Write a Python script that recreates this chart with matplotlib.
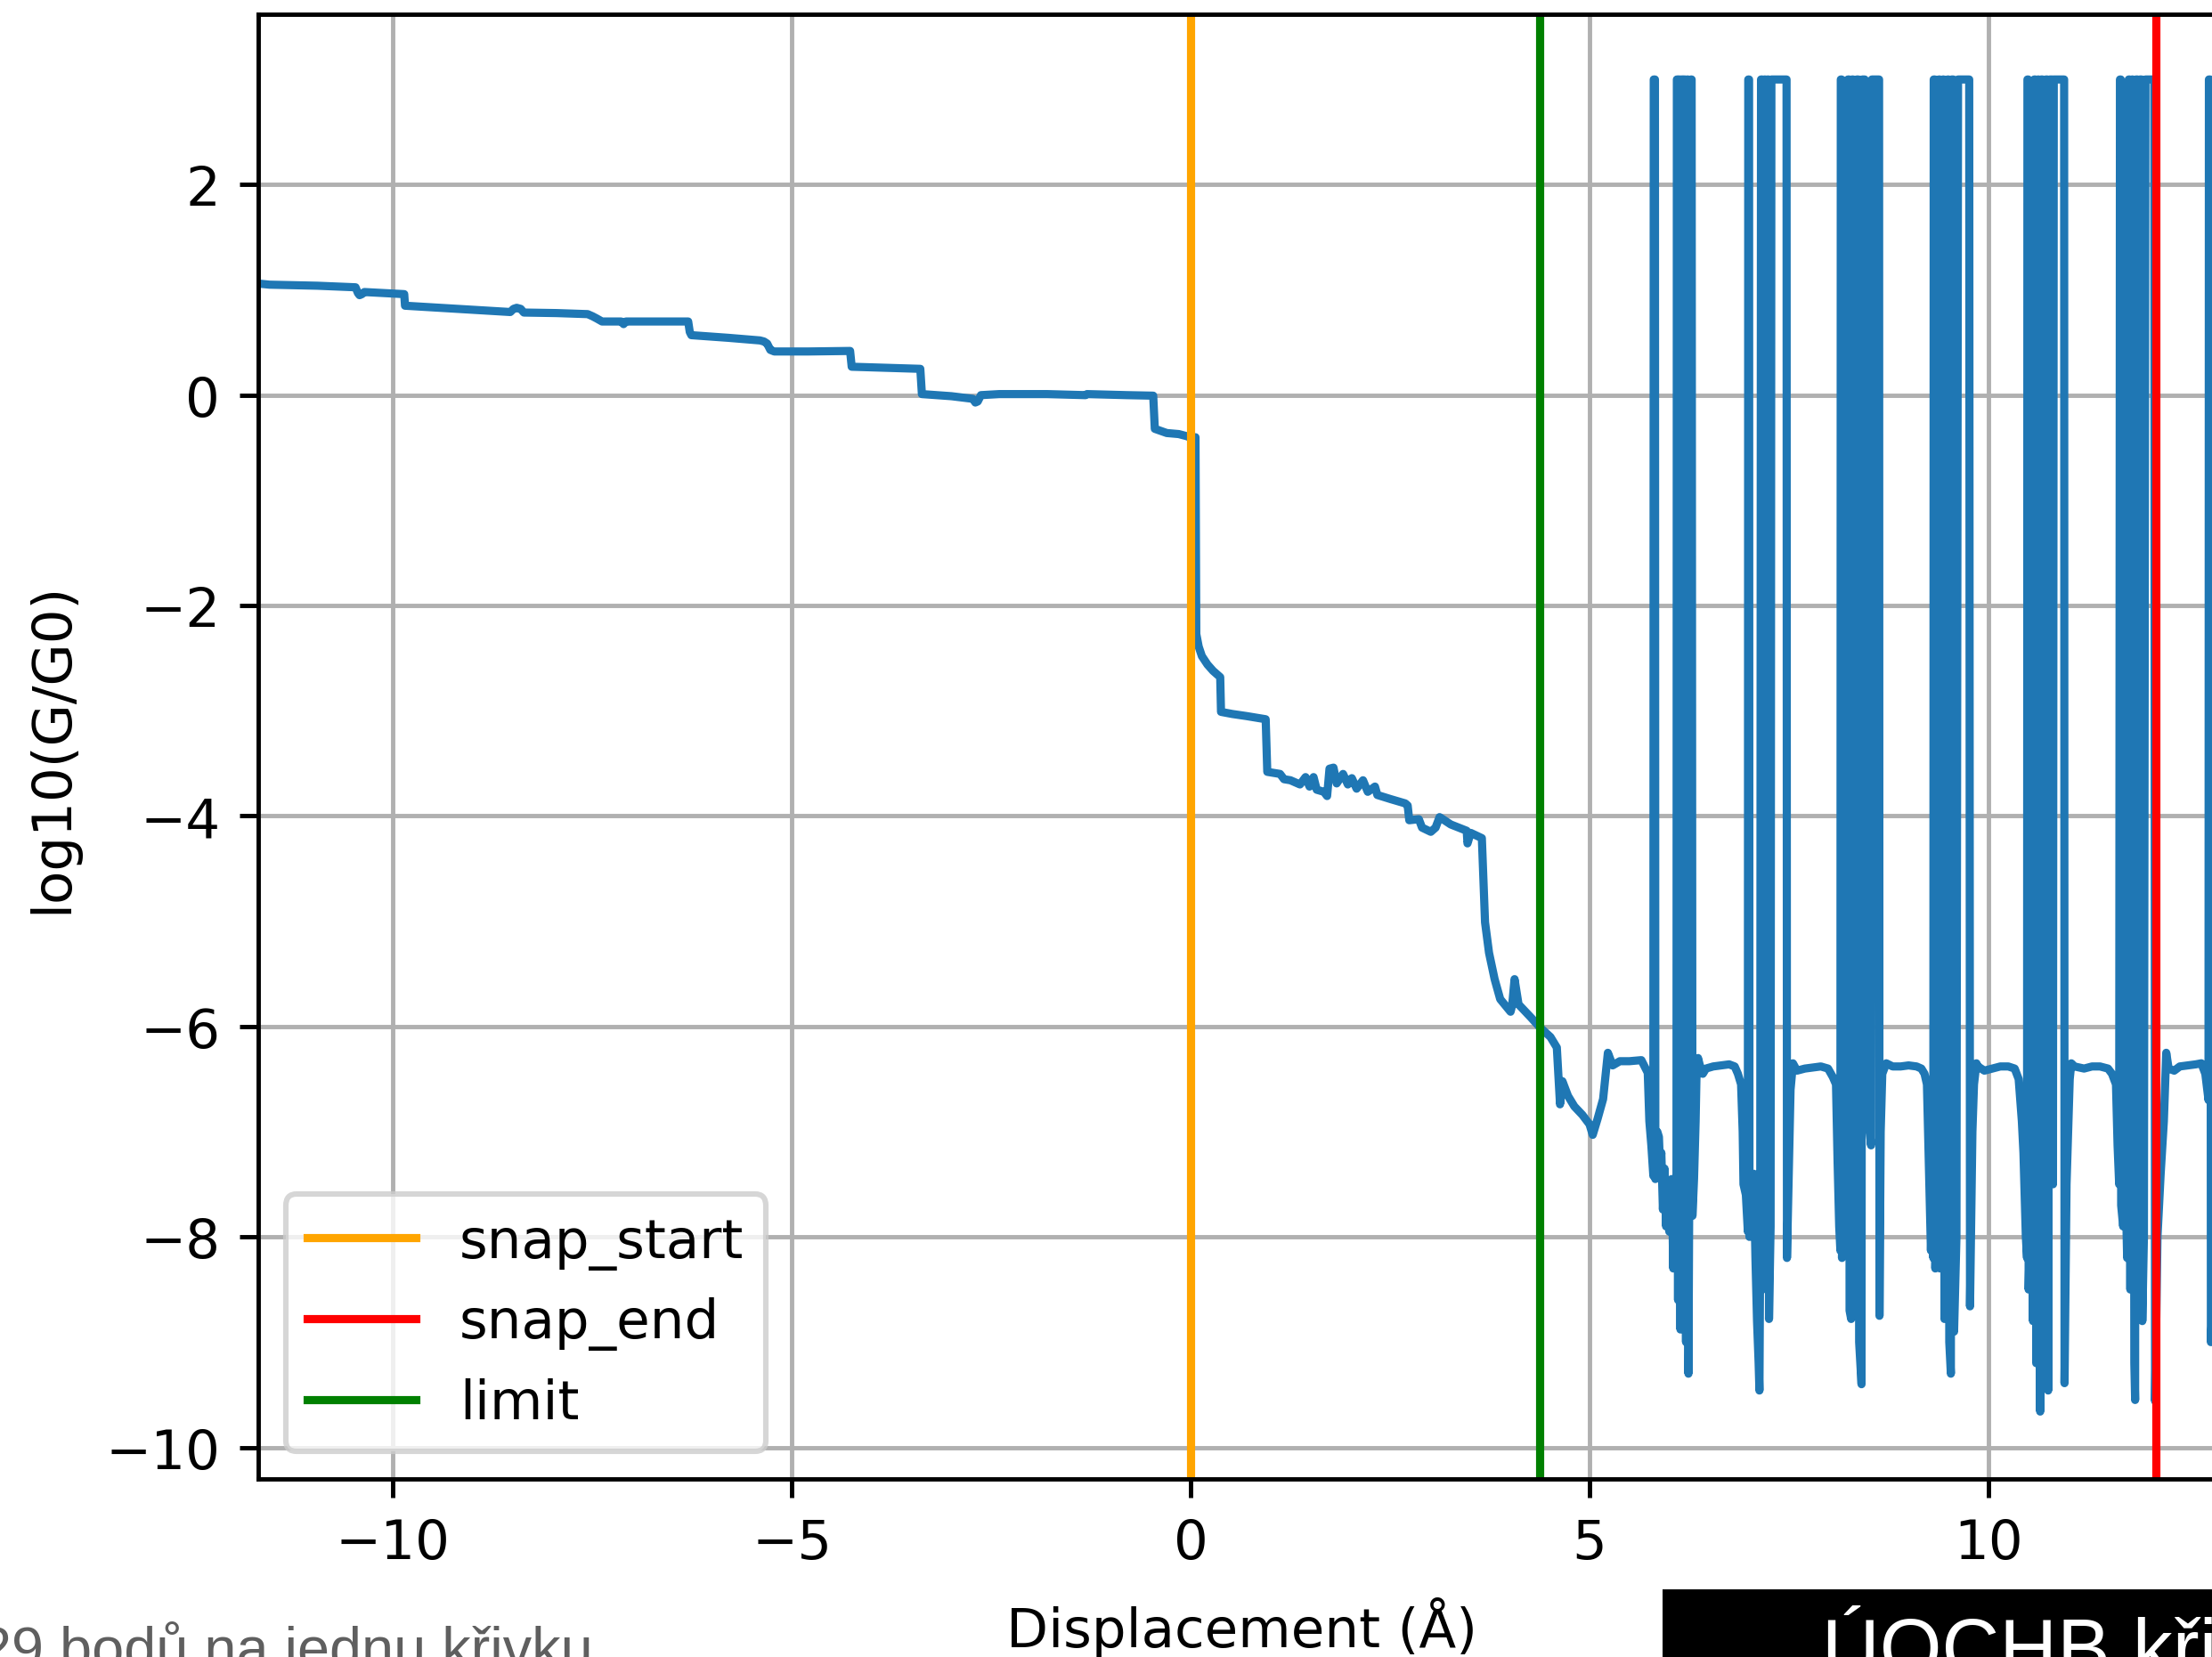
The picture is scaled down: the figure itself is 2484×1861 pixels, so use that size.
"""Vodivostní křivka log10(G/G0) vs. posun, se značkami snap_start / snap_end / limit."""
import numpy as np

import matplotlib
matplotlib.use("Agg")
import matplotlib.pyplot as plt  # noqa: E402
from matplotlib.patches import Rectangle  # noqa: E402

DPI = 440
W_PX, H_PX = 2484, 1862

# ── data: (posun [Å], log10(G/G0)) ──
# kontakt před přetržením (schodovitý pokles)
contact = [
    (-11.68, 1.06), (-11.55, 1.05), (-10.95, 1.04), (-10.47, 1.025), (-10.44, 0.97),
    (-10.42, 0.95), (-10.39, 0.96), (-10.36, 0.98), (-10.10, 0.97), (-9.86, 0.96),
    (-9.85, 0.85), (-9.20, 0.82), (-8.53, 0.79), (-8.49, 0.82), (-8.45, 0.83),
    (-8.40, 0.82), (-8.36, 0.785), (-7.95, 0.78), (-7.56, 0.77), (-7.50, 0.75),
    (-7.45, 0.73), (-7.38, 0.70), (-7.14, 0.70), (-7.11, 0.675), (-7.08, 0.70),
    (-6.70, 0.70), (-6.30, 0.70), (-6.28, 0.60), (-6.26, 0.57), (-5.80, 0.545),
    (-5.40, 0.52), (-5.35, 0.51), (-5.31, 0.49), (-5.27, 0.43), (-5.22, 0.415),
    (-4.80, 0.415), (-4.27, 0.42), (-4.25, 0.27), (-3.80, 0.26), (-3.39, 0.25),
    (-3.37, 0.01), (-3.00, -0.01), (-2.73, -0.035), (-2.70, -0.07), (-2.67, -0.06),
    (-2.63, 0.0), (-2.40, 0.01), (-1.80, 0.01), (-1.32, 0.0), (-1.30, 0.01),
    (-0.80, 0.0), (-0.47, -0.005), (-0.45, -0.32), (-0.30, -0.36), (-0.15, -0.37),
    (-0.05, -0.39), (0.05, -0.42),
]
# po snapu: tunelový režim
tunnel = [
    (0.06, -0.40), (0.07, -2.27), (0.10, -2.39), (0.14, -2.48), (0.21, -2.56),
    (0.28, -2.62), (0.37, -2.68), (0.38, -3.01), (0.52, -3.03), (0.70, -3.05),
    (0.94, -3.08), (0.96, -3.58), (1.12, -3.60), (1.17, -3.65), (1.25, -3.66),
    (1.37, -3.70), (1.44, -3.63), (1.49, -3.72), (1.54, -3.63), (1.58, -3.75),
    (1.67, -3.77), (1.71, -3.81), (1.74, -3.55), (1.79, -3.54), (1.83, -3.69),
    (1.91, -3.60), (1.97, -3.70), (2.02, -3.64), (2.08, -3.74), (2.16, -3.66),
    (2.22, -3.77), (2.31, -3.72), (2.34, -3.80), (2.51, -3.84), (2.69, -3.88),
    (2.72, -3.90), (2.74, -4.04), (2.86, -4.03), (2.90, -4.11), (3.01, -4.15),
    (3.07, -4.11), (3.12, -4.01), (3.26, -4.08), (3.36, -4.11), (3.46, -4.14),
    (3.47, -4.26), (3.51, -4.16), (3.65, -4.21), (3.69, -5.01), (3.74, -5.30),
    (3.81, -5.55), (3.88, -5.74), (4.01, -5.86), (4.03, -5.80), (4.06, -5.55),
    (4.11, -5.79), (4.26, -5.91), (4.38, -6.01), (4.51, -6.10), (4.59, -6.20),
    (4.63, -6.74), (4.66, -6.52), (4.73, -6.66), (4.81, -6.76), (4.91, -6.84),
    (5.00, -6.93), (5.04, -7.03), (5.10, -6.88), (5.17, -6.69), (5.23, -6.25),
    (5.29, -6.37), (5.38, -6.33), (5.50, -6.33), (5.65, -6.32), (5.73, -6.44),
]
# šumový úsek: skoky na saturaci (3) a propady
noise_a = [
    (5.75, -6.90), (5.775, -7.13), (5.80, -7.42), (5.805, 3.0), (5.82, 3.0),
    (5.825, -7.45), (5.85, -7.00), (5.87, -7.05), (5.885, -7.35), (5.90, -7.20),
    (5.92, -7.74), (5.94, -7.35), (5.96, -7.90), (5.98, -7.50), (6.00, -7.95),
    (6.03, -7.45), (6.05, -8.30), (6.07, -7.60), (6.09, -8.00), (6.095, 3.0),
    (6.105, 3.0), (6.11, -8.60), (6.12, 3.0), (6.13, 3.0), (6.14, -8.88),
    (6.15, 3.0), (6.165, 3.0), (6.17, -7.70), (6.18, 3.0), (6.20, 3.0),
    (6.21, -9.00), (6.225, 3.0), (6.235, 3.0), (6.24, -9.30), (6.25, -7.60),
    (6.27, 3.0), (6.28, 3.0), (6.29, -7.80), (6.31, -7.45), (6.33, -6.90),
    (6.34, -6.50), (6.36, -6.30), (6.38, -6.36), (6.42, -6.45), (6.46, -6.40),
    (6.55, -6.38), (6.65, -6.37), (6.75, -6.36), (6.82, -6.38), (6.86, -6.45),
    (6.90, -6.55),
]
noise_b = [
    (6.92, -7.00), (6.93, -7.50), (6.96, -7.60), (6.985, -7.95), (6.99, 3.0),
    (7.00, 3.0), (7.005, -8.00), (7.03, -7.50), (7.05, -7.62), (7.06, -7.40),
    (7.08, -8.20), (7.10, -8.80), (7.12, -9.20), (7.13, -9.46), (7.14, -8.00),
    (7.15, 3.0), (7.165, 3.0), (7.17, -8.50), (7.19, 3.0), (7.205, 3.0),
    (7.21, -8.20), (7.23, 3.0), (7.245, 3.0), (7.25, -8.78), (7.27, -7.90),
    (7.28, 3.0), (7.47, 3.0), (7.475, -8.20), (7.50, -7.30), (7.52, -6.60),
    (7.55, -6.35), (7.60, -6.42), (7.70, -6.40), (7.80, -6.39), (7.90, -6.38),
    (7.99, -6.40), (8.05, -6.48), (8.09, -6.55),
]
noise_c = [
    (8.11, -7.29), (8.13, -7.90), (8.145, -8.13), (8.15, 3.0), (8.16, 3.0),
    (8.165, -8.20), (8.20, -7.30), (8.21, -7.10), (8.23, -7.75), (8.24, 3.0),
    (8.255, 3.0), (8.26, -8.70), (8.28, -8.78), (8.29, 3.0), (8.305, 3.0),
    (8.31, -8.50), (8.33, -7.50), (8.35, 3.0), (8.37, 3.0), (8.38, -9.00),
    (8.41, -9.40), (8.42, 3.0), (8.45, 3.0), (8.46, -6.50), (8.50, -6.90),
    (8.53, -7.13), (8.54, 3.0), (8.63, 3.0), (8.635, -8.75), (8.65, -7.00),
    (8.67, -6.45), (8.72, -6.35), (8.80, -6.38), (8.90, -6.38), (9.00, -6.37),
    (9.10, -6.38), (9.16, -6.40), (9.20, -6.45), (9.23, -6.55),
]
noise_d = [
    (9.26, -7.50), (9.28, -8.13), (9.30, -7.60), (9.31, -8.20), (9.315, 3.0),
    (9.33, 3.0), (9.335, -8.30), (9.36, -7.50), (9.37, -8.00), (9.38, 3.0),
    (9.39, 3.0), (9.395, -8.30), (9.42, -7.70), (9.43, 3.0), (9.44, 3.0),
    (9.45, -8.78), (9.47, -8.20), (9.49, 3.0), (9.50, 3.0), (9.51, -9.00),
    (9.53, -9.30), (9.54, 3.0), (9.56, 3.0), (9.57, -8.90), (9.60, -8.00),
    (9.62, 3.0), (9.76, 3.0), (9.77, -8.66), (9.80, -7.00), (9.82, -6.55),
    (9.85, -6.35), (9.87, -6.38), (9.95, -6.42), (10.05, -6.40), (10.15, -6.38),
    (10.25, -6.38), (10.33, -6.40), (10.38, -6.50),
]
noise_e = [
    (10.42, -6.90), (10.44, -7.20), (10.47, -8.00), (10.485, -8.20), (10.49, 3.0),
    (10.50, 3.0), (10.505, -8.50), (10.54, -7.30), (10.56, -8.80), (10.575, 3.0),
    (10.59, 3.0), (10.60, -9.20), (10.62, 3.0), (10.63, 3.0), (10.65, -9.66),
    (10.66, 3.0), (10.68, 3.0), (10.70, -9.40), (10.72, 3.0), (10.74, 3.0),
    (10.75, -9.46), (10.77, 3.0), (10.80, 3.0), (10.81, -7.50), (10.82, 3.0),
    (10.95, 3.0), (10.955, -9.39), (10.98, -7.50), (11.02, -6.50), (11.04, -6.35),
    (11.08, -6.38), (11.20, -6.40), (11.30, -6.38), (11.40, -6.38), (11.50, -6.40),
    (11.55, -6.45), (11.60, -6.55),
]
noise_f = [
    (11.62, -7.13), (11.64, -7.50), (11.65, 3.0), (11.66, 3.0), (11.665, -7.70),
    (11.69, -7.90), (11.72, -7.50), (11.74, -8.20), (11.76, 3.0), (11.77, 3.0),
    (11.78, -8.50), (11.80, 3.0), (11.81, 3.0), (11.83, -9.20), (11.84, -9.55),
    (11.85, 3.0), (11.87, 3.0), (11.88, -8.60), (11.90, 3.0), (11.92, 3.0),
    (11.93, -8.80), (11.95, -8.00), (11.97, 3.0), (12.08, 3.0), (12.09, -9.56),
    (12.12, -8.00), (12.16, -7.40), (12.20, -6.90), (12.23, -6.25), (12.26, -6.40),
    (12.33, -6.42), (12.40, -6.38), (12.50, -6.37), (12.60, -6.36), (12.67, -6.35),
    (12.72, -6.45), (12.76, -6.70), (12.765, 3.0), (12.78, 3.0), (12.79, -9.00),
    (12.85, -8.00), (12.95, -7.50), (13.05, -7.80),
]

snap_start = 0.0
snap_end = 12.1
limit = 4.38

curve = np.array(contact + tunnel + noise_a + noise_b + noise_c + noise_d + noise_e + noise_f)
disp, logG = curve[:, 0], curve[:, 1]

fig = plt.figure(figsize=(W_PX / DPI, H_PX / DPI), dpi=DPI)
# osa přesahuje pravý okraj obrázku (výřez)
ax = fig.add_axes([290 / W_PX, 1 - 1662 / H_PX, (2498 - 290) / W_PX, (1662 - 17) / H_PX])

ax.plot(disp, logG, color="#1f77b4")
ax.axvline(snap_start, color="orange", label="snap_start")
ax.axvline(snap_end, color="red", label="snap_end")
ax.axvline(limit, color="green", label="limit")

ax.set_xlim(-11.69, 12.96)
ax.set_ylim(-10.30, 3.62)
ax.set_xlabel("Displacement (Å)", labelpad=5)
ax.set_ylabel("log10(G/G0)", labelpad=5)
ax.grid(True)
ax.legend(loc="lower left")

# popisky pod grafem
fig.text(666 / W_PX, -11 / H_PX, "29 bodů na jednu křivku", ha="right", va="baseline",
         fontsize=10.6, color="#5f5f5f", family=["Liberation Sans", "DejaVu Sans"])
fig.patches.append(Rectangle((1867 / W_PX, -0.05), 0.3, 0.05 + (H_PX - 1786) / H_PX,
                             transform=fig.transFigure, facecolor="black",
                             edgecolor="none", zorder=3))
fig.text(2046 / W_PX, -20 / H_PX, "ÚOCHB křivky", ha="left", va="baseline",
         fontsize=14.7, color="white", zorder=4, family=["Liberation Sans", "DejaVu Sans"])

fig.savefig("out.png", dpi=DPI)
print("wrote out.png")
